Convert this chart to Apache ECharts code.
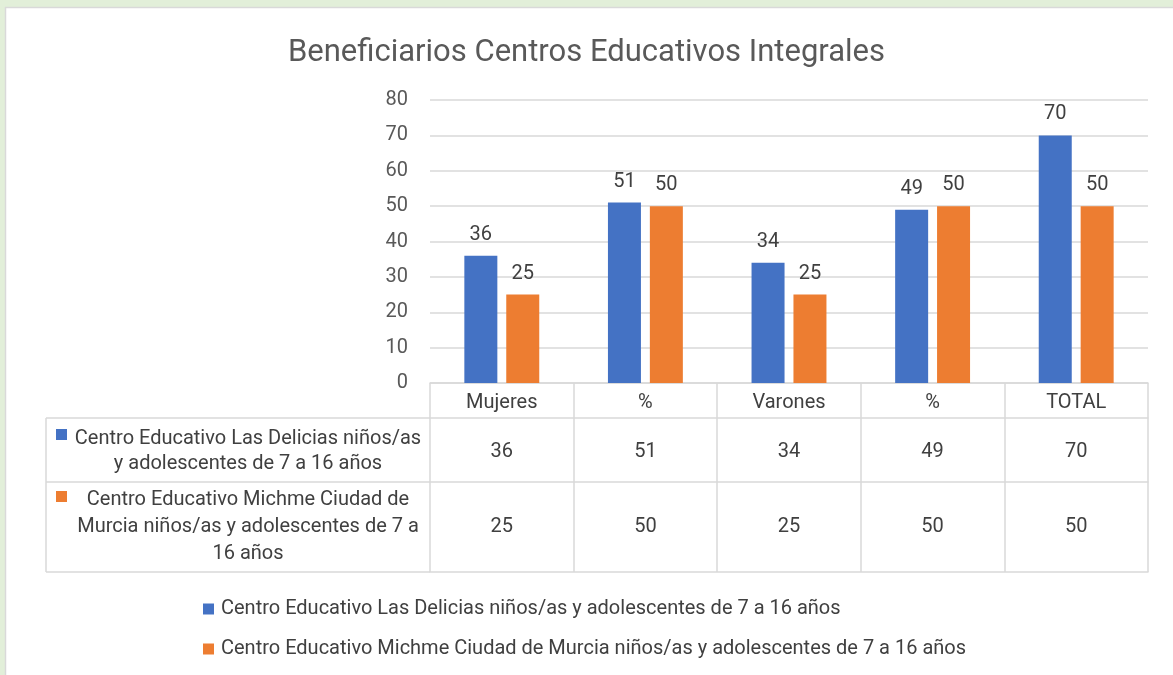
<!DOCTYPE html>
<html>
<head>
<meta charset="utf-8">
<title>Beneficiarios Centros Educativos Integrales</title>
<script src="https://cdn.jsdelivr.net/npm/echarts@6/dist/echarts.min.js"></script>
<style>
  html, body { margin: 0; padding: 0; background: #fff; }
  #chart { width: 1173px; height: 675px; }
</style>
</head>
<body>
<div id="chart"></div>
<script>
// datos de la tabla
const categories = ['Mujeres', '%', 'Varones', '%', 'TOTAL']
const seriesNames = [
  'Centro Educativo Las Delicias niños/as y adolescentes de 7 a 16 años',
  'Centro Educativo Michme Ciudad de Murcia niños/as y adolescentes de 7 a 16 años'
]
const delicias = [36, 51, 34, 49, 70]
const michme = [25, 50, 25, 50, 50]
// etiquetas de la primera columna de la tabla
const rowLabels = [
  'Centro Educativo Las Delicias niños/as\ny adolescentes de 7 a 16 años',
  'Centro Educativo Michme Ciudad de\nMurcia niños/as y adolescentes de 7 a\n16 años'
]

const blue = '#4472c4'
const orange = '#ed7d31'
const lineGray = '#d9d9d9'
const font = 'Roboto'
const fs = 20

// layout
const W = 1173
const gridLeft = 430
const gridRight = 25
const axisY = 383
const rowTops = [418, 482, 572] // lineas horizontales de la tabla
const tableLeft = 46

const chart = echarts.init(document.getElementById('chart'))

const option = {
  backgroundColor: '#fff',
  textStyle: { fontFamily: font },
  title: {
    text: 'Beneficiarios Centros Educativos Integrales',
    left: 'center',
    top: 33,
    textStyle: { fontFamily: font, fontSize: 31, fontWeight: 'normal', color: '#595959' }
  },
  legend: {
    orient: 'vertical',
    left: 198,
    top: 594,
    itemWidth: 11,
    itemHeight: 11,
    itemGap: 20,
    icon: 'rect',
    data: seriesNames,
    textStyle: { fontFamily: font, fontSize: fs, color: '#404040', padding: [0, 0, 0, 2] }
  },
  grid: {
    left: gridLeft,
    right: gridRight,
    top: 100,
    bottom: 675 - axisY,
    outerBoundsMode: 'none'
  },
  xAxis: [
    {
      type: 'category',
      position: 'bottom',
      data: categories,
      axisLine: { lineStyle: { color: lineGray, width: 1.5 } },
      axisTick: { show: true, interval: 0, length: rowTops[2] - axisY, lineStyle: { color: lineGray, width: 1.5 } },
      axisLabel: { margin: 10, fontSize: fs, color: '#404040', fontFamily: font }
    },
    {
      type: 'category',
      position: 'bottom',
      data: delicias.map(String),
      offset: rowTops[0] - axisY,
      axisLine: { lineStyle: { color: lineGray, width: 1.5 } },
      axisTick: { show: false },
      axisLabel: { margin: 24, fontSize: fs, color: '#404040', fontFamily: font }
    },
    {
      type: 'category',
      position: 'bottom',
      data: michme.map(String),
      offset: rowTops[1] - axisY,
      axisLine: { lineStyle: { color: lineGray, width: 1.5 } },
      axisTick: { show: false },
      axisLabel: { margin: 35, fontSize: fs, color: '#404040', fontFamily: font }
    },
    {
      type: 'category',
      position: 'bottom',
      data: categories,
      offset: rowTops[2] - axisY,
      axisLine: { lineStyle: { color: lineGray, width: 1.5 } },
      axisTick: { show: false },
      axisLabel: { show: false }
    }
  ],
  yAxis: {
    type: 'value',
    min: 0,
    max: 80,
    interval: 10,
    axisLine: { show: false },
    axisTick: { show: false },
    axisLabel: { margin: 22, fontSize: fs, color: '#595959', fontFamily: font },
    splitLine: { lineStyle: { color: lineGray, width: 1.5 } }
  },
  series: [
    {
      name: seriesNames[0],
      type: 'bar',
      data: delicias,
      barWidth: 33,
      barGap: '27%',
      itemStyle: { color: blue },
      label: { show: true, position: 'top', distance: 11, fontSize: fs, color: '#404040', fontFamily: font }
    },
    {
      name: seriesNames[1],
      type: 'bar',
      data: michme,
      barWidth: 33,
      barGap: '27%',
      itemStyle: { color: orange },
      label: { show: true, position: 'top', distance: 11, fontSize: fs, color: '#404040', fontFamily: font }
    }
  ],
  graphic: [
    // marco verde de la pagina
    { type: 'rect', shape: { x: 0, y: 0, width: W, height: 7 }, style: { fill: '#e2efd9' }, silent: true },
    { type: 'rect', shape: { x: 0, y: 0, width: 5, height: 675 }, style: { fill: '#e2efd9' }, silent: true },
    { type: 'line', shape: { x1: 5, y1: 7.5, x2: W, y2: 7.5 }, style: { stroke: '#d9d9d9', lineWidth: 1.5 }, silent: true },
    { type: 'line', shape: { x1: 5.5, y1: 7, x2: 5.5, y2: 675 }, style: { stroke: '#d9d9d9', lineWidth: 1.5 }, silent: true },
    // primera columna de la tabla
    ...rowTops.map(y => ({
      type: 'line', silent: true,
      shape: { x1: tableLeft, y1: y, x2: gridLeft, y2: y },
      style: { stroke: lineGray, lineWidth: 1.5 }
    })),
    {
      type: 'line', silent: true,
      shape: { x1: tableLeft, y1: rowTops[0], x2: tableLeft, y2: rowTops[2] },
      style: { stroke: lineGray, lineWidth: 1.5 }
    },
    {
      type: 'rect', silent: true,
      shape: { x: 56, y: 429, width: 11, height: 11 },
      style: { fill: blue }
    },
    {
      type: 'rect', silent: true,
      shape: { x: 56, y: 491, width: 11, height: 11 },
      style: { fill: orange }
    },
    {
      type: 'text', silent: true,
      x: 248, y: (rowTops[0] + rowTops[1]) / 2 + 1,
      style: {
        text: rowLabels[0], fill: '#404040', font: fs + 'px ' + font,
        align: 'center', verticalAlign: 'middle', lineHeight: 25
      }
    },
    {
      type: 'text', silent: true,
      x: 248, y: (rowTops[1] + rowTops[2]) / 2,
      style: {
        text: rowLabels[1], fill: '#404040', font: fs + 'px ' + font,
        align: 'center', verticalAlign: 'middle', lineHeight: 27
      }
    }
  ]
}

chart.setOption(option)
</script>
</body>
</html>
